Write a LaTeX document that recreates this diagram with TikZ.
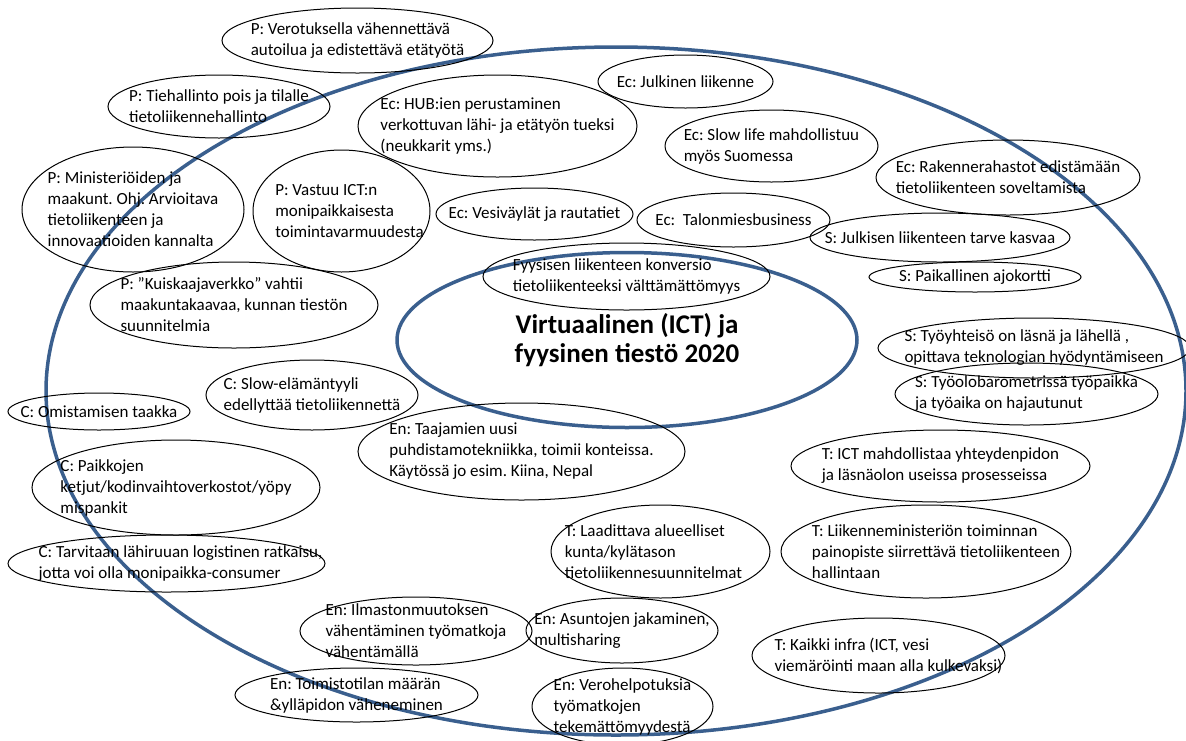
\documentclass[tikz,border=0pt]{standalone}
\usepackage{fontspec}
\setmainfont{Carlito}
\usetikzlibrary{shapes.geometric}
\definecolor{ringblue}{HTML}{3A5F8E}

\begin{document}
\frenchspacing
\begin{tikzpicture}[x=1pt, y=-1pt]
\tikzstyle{idea}=[ellipse, draw=black, line width=1pt, inner sep=0pt]
\tikzstyle{every label}=[font=\fontsize{17}{21}\selectfont, align=left, inner sep=0pt]
\useasboundingbox (0,0) rectangle (1186,740);

% Frame and centre
\node at (616, 391) [ellipse, draw=ringblue, line width=3.5pt, minimum width=1140pt, minimum height=688pt] (frame) {};
\node at (627, 340) [ellipse, draw=ringblue, line width=3.5pt, minimum width=460pt, minimum height=175pt, align=center, font=\fontsize{27}{29}\selectfont\bfseries] (centre) {Virtuaalinen (ICT) ja\\fyysinen tiestö 2020};

% P
\node at (357.5, 40.5) [idea, minimum width=271pt, minimum height=65pt, label=center:{P: Verotuksella vähennettävä\\autoilua ja edistettävä etätyötä}] (verotus) {};
\node at (219, 106.5) [idea, minimum width=222pt, minimum height=63pt, label=center:{P: Tiehallinto pois ja tilalle\\tietoliikennehallinto}] (tiehallinto) {};
\node at (133, 209.5) [idea, minimum width=222pt, minimum height=125pt, label=center:{P: Ministeriöiden ja\\maakunt. Ohj. Arvioitava\\tietoliikenteen ja\\innovaatioiden kannalta}] (ministeriot) {};
\node at (341.5, 211) [idea, minimum width=177pt, minimum height=122pt, label={[xshift=8pt]center:{P: Vastuu ICT:n\\monipaikkaisesta\\toimintavarmuudesta}}] (vastuu) {};
\node at (234, 305) [idea, minimum width=288pt, minimum height=86pt, label=center:{P: ”Kuiskaajaverkko” vahtii\\maakuntakaavaa, kunnan tiestön\\suunnitelmia}] (kuiskaaja) {};

% Ec
\node at (497.5, 126) [idea, minimum width=279pt, minimum height=102pt, label=center:{Ec: HUB:ien perustaminen\\verkottuvan lähi- ja etätyön tueksi\\(neukkarit yms.)}] (hub) {};
\node at (685.5, 81.5) [idea, minimum width=175pt, minimum height=53pt, label=center:{Ec: Julkinen liikenne}] (julkinen) {};
\node at (771.5, 146) [idea, minimum width=213pt, minimum height=72pt, label=center:{Ec: Slow life mahdollistuu\\myös Suomessa}] (slowlife) {};
\node at (1008, 177.5) [idea, minimum width=264pt, minimum height=75pt, label=center:{Ec: Rakennerahastot edistämään\\tietoliikenteen soveltamista}] (rakenne) {};
\node at (534.5, 214) [idea, minimum width=197pt, minimum height=52pt, label=center:{Ec: Vesiväylät ja rautatiet}] (vesivaylat) {};
\node at (733.5, 220) [idea, minimum width=193pt, minimum height=54pt, label=center:{Ec:~ Talonmiesbusiness}] (talonmies) {};
\node at (626.5, 276.5) [idea, minimum width=287pt, minimum height=67pt, label=center:{Fyysisen liikenteen konversio\\tietoliikenteeksi välttämättömyys}] (konversio) {};

% S
\node at (940, 237.5) [idea, minimum width=260pt, minimum height=49pt, label=center:{S: Julkisen liikenteen tarve kasvaa}] (tarve) {};
\node at (975, 277) [idea, minimum width=212pt, minimum height=30pt, label=center:{S: Paikallinen ajokortti}] (ajokortti) {};
\node at (1034, 348) [idea, minimum width=312pt, minimum height=60pt, label=center:{S: Työyhteisö on läsnä ja lähellä ,\\opittava teknologian hyödyntämiseen}] (tyoyhteiso) {};
\node at (1026.5, 394) [idea, minimum width=263pt, minimum height=62pt, label=center:{S: Työolobarometrissä työpaikka\\ja työaika on hajautunut}] (barometri) {};

% C
\node at (312, 395) [idea, minimum width=212pt, minimum height=70pt, label=center:{C: Slow-elämäntyyli\\edellyttää tietoliikennettä}] (slowelama) {};
\node at (99, 411.5) [idea, minimum width=182pt, minimum height=37pt, label=center:{C: Omistamisen taakka}] (omistaminen) {};
\node at (176, 487.5) [idea, minimum width=288pt, minimum height=95pt, label=center:{C: Paikkojen\\ketjut/kodinvaihtoverkostot/yöpy\\mispankit}] (paikkojen) {};
\node at (166.5, 563.5) [idea, minimum width=317pt, minimum height=57pt, label={[xshift=14pt]center:{C: Tarvitaan lähiruuan logistinen ratkaisu,\\jotta voi olla monipaikka-consumer}}] (lahiruoka) {};

% En
\node at (521.5, 451.5) [idea, minimum width=327pt, minimum height=97pt, label=center:{En: Taajamien uusi\\puhdistamotekniikka, toimii konteissa.\\Käytössä jo esim. Kiina, Nepal}] (taajamat) {};
\node at (416, 631) [idea, minimum width=232pt, minimum height=68pt, label=center:{En: Ilmastonmuutoksen\\vähentäminen työmatkoja\\vähentämällä}] (ilmasto) {};
\node at (622, 630.5) [idea, minimum width=192pt, minimum height=65pt, label=center:{En: Asuntojen jakaminen,\\multisharing}] (asunnot) {};
\node at (356.5, 695) [idea, minimum width=243pt, minimum height=54pt, label=center:{En: Toimistotilan määrän\\\&ylläpidon väheneminen}] (toimisto) {};
\node at (622.5, 706.5) [idea, minimum width=181pt, minimum height=77pt, label=center:{En: Verohelpotuksia\\työmatkojen\\tekemättömyydestä}] (verohelpotus) {};

% T
\node at (940.5, 466) [idea, minimum width=299pt, minimum height=72pt, label=center:{T: ICT mahdollistaa yhteydenpidon\\ja läsnäolon useissa prosesseissa}] (ictmahd) {};
\node at (660.5, 551.5) [idea, minimum width=219pt, minimum height=93pt, label={[xshift=-7pt]center:{T: Laadittava alueelliset\\kunta/kylätason\\tietoliikennesuunnitelmat}}] (laadittava) {};
\node at (926, 551.5) [idea, minimum width=290pt, minimum height=93pt, label={[xshift=10pt]center:{T: Liikenneministeriön toiminnan\\painopiste siirrettävä tietoliikenteen\\hallintaan}}] (ministerio) {};
\node at (878.5, 655.5) [idea, minimum width=253pt, minimum height=75pt, label={[xshift=10pt]center:{T: Kaikki infra (ICT, vesi\\viemäröinti maan alla kulkevaksi)}}] (infra) {};
\end{tikzpicture}
\end{document}
